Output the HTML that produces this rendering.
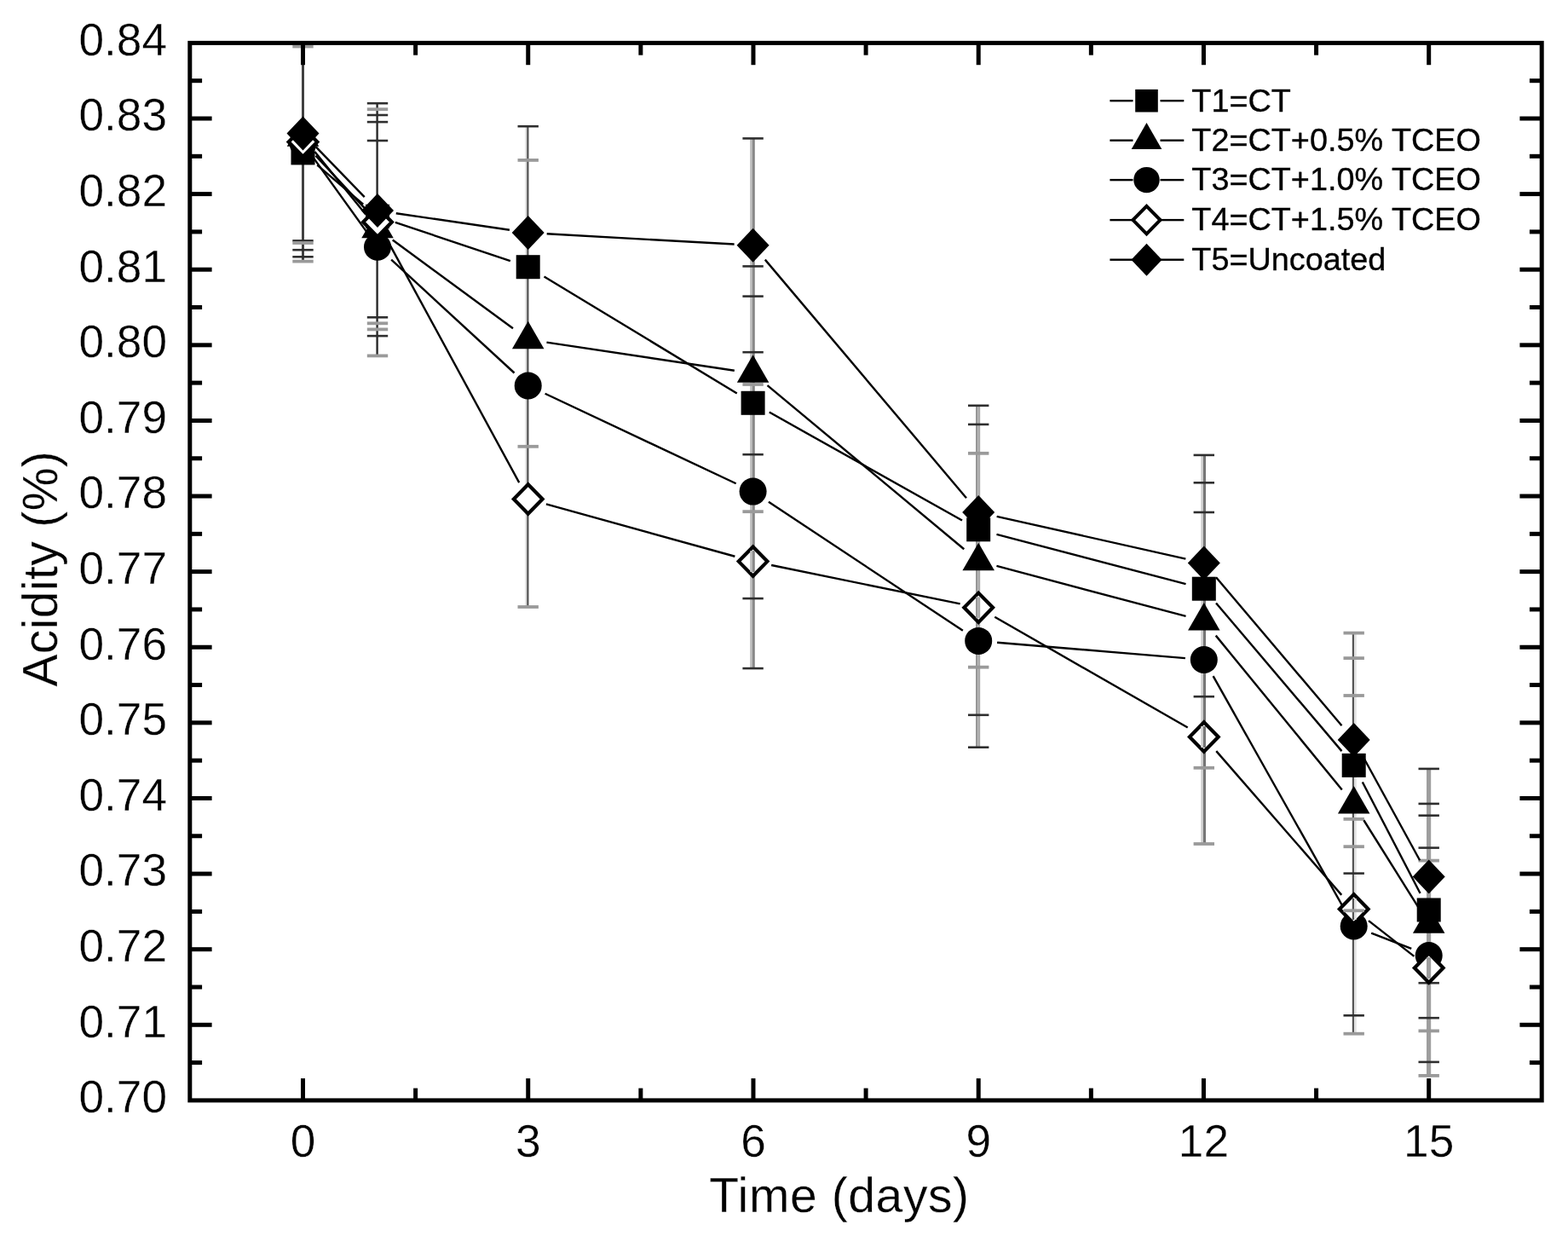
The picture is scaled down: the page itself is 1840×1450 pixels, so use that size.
<!DOCTYPE html>
<html><head><meta charset="utf-8"><title>Acidity chart</title>
<style>html,body{margin:0;padding:0;background:#fff;}body{width:1840px;height:1450px;overflow:hidden;}svg{display:block;}text{font-family:"Liberation Sans",Arial,sans-serif;fill:#000;}</style>
</head><body>
<svg width="1840" height="1450" viewBox="0 0 1840 1450">
<rect x="0" y="0" width="1840" height="1450" fill="#fff"/>
<g>
<rect x="354" y="50.4" width="3" height="256.2" fill="#404040"/>
<line x1="343.3" y1="54.5" x2="367.7" y2="54.5" stroke="#9a9a9a" stroke-width="3.8"/>
<line x1="343.3" y1="282.4" x2="367.7" y2="282.4" stroke="#2e2e2e" stroke-width="2.6"/>
<line x1="343.3" y1="285" x2="367.7" y2="285" stroke="#9a9a9a" stroke-width="3.8"/>
<line x1="343.3" y1="293.2" x2="367.7" y2="293.2" stroke="#2e2e2e" stroke-width="2.6"/>
<line x1="343.3" y1="301.3" x2="367.7" y2="301.3" stroke="#2e2e2e" stroke-width="2.6"/>
<line x1="343.3" y1="306.6" x2="367.7" y2="306.6" stroke="#9a9a9a" stroke-width="3.8"/>
<rect x="441.4" y="121.2" width="2.4" height="296.2" fill="#2a2a2a"/>
<line x1="430.8" y1="121.2" x2="455.2" y2="121.2" stroke="#2e2e2e" stroke-width="2.6"/>
<line x1="430.8" y1="128.2" x2="455.2" y2="128.2" stroke="#9a9a9a" stroke-width="3.8"/>
<line x1="430.8" y1="135" x2="455.2" y2="135" stroke="#2e2e2e" stroke-width="2.6"/>
<line x1="430.8" y1="143.1" x2="455.2" y2="143.1" stroke="#2e2e2e" stroke-width="2.6"/>
<line x1="430.8" y1="165" x2="455.2" y2="165" stroke="#2e2e2e" stroke-width="2.6"/>
<line x1="430.8" y1="372.3" x2="455.2" y2="372.3" stroke="#2e2e2e" stroke-width="2.6"/>
<line x1="430.8" y1="379.3" x2="455.2" y2="379.3" stroke="#9a9a9a" stroke-width="3.8"/>
<line x1="430.8" y1="386.4" x2="455.2" y2="386.4" stroke="#9a9a9a" stroke-width="3.8"/>
<line x1="430.8" y1="394.1" x2="455.2" y2="394.1" stroke="#2e2e2e" stroke-width="2.6"/>
<line x1="430.8" y1="417.4" x2="455.2" y2="417.4" stroke="#9a9a9a" stroke-width="3.8"/>
<rect x="616.2" y="148.2" width="2" height="563.8" fill="#e0e0e0"/><rect x="618.2" y="148.2" width="2.3" height="563.8" fill="#555555"/>
<line x1="607.5" y1="148.2" x2="631.9" y2="148.2" stroke="#2e2e2e" stroke-width="2.6"/>
<line x1="607.5" y1="187.9" x2="631.9" y2="187.9" stroke="#9a9a9a" stroke-width="3.8"/>
<line x1="607.5" y1="523.8" x2="631.9" y2="523.8" stroke="#9a9a9a" stroke-width="3.8"/>
<line x1="607.5" y1="712" x2="631.9" y2="712" stroke="#9a9a9a" stroke-width="3.8"/>
<rect x="880.2" y="162.4" width="2.7" height="621.7" fill="#bbbbbb"/><rect x="882.9" y="162.4" width="2.9" height="621.7" fill="#888888"/>
<line x1="871.4" y1="162.4" x2="895.8" y2="162.4" stroke="#2e2e2e" stroke-width="2.6"/>
<line x1="871.4" y1="312.4" x2="895.8" y2="312.4" stroke="#2e2e2e" stroke-width="2.6"/>
<line x1="871.4" y1="347.6" x2="895.8" y2="347.6" stroke="#2e2e2e" stroke-width="2.6"/>
<line x1="871.4" y1="413.2" x2="895.8" y2="413.2" stroke="#2e2e2e" stroke-width="2.6"/>
<line x1="871.4" y1="451" x2="895.8" y2="451" stroke="#9a9a9a" stroke-width="3.8"/>
<line x1="871.4" y1="533.2" x2="895.8" y2="533.2" stroke="#2e2e2e" stroke-width="2.6"/>
<line x1="871.4" y1="600.2" x2="895.8" y2="600.2" stroke="#9a9a9a" stroke-width="3.8"/>
<line x1="871.4" y1="702.1" x2="895.8" y2="702.1" stroke="#2e2e2e" stroke-width="2.6"/>
<line x1="871.4" y1="784.1" x2="895.8" y2="784.1" stroke="#2e2e2e" stroke-width="2.6"/>
<rect x="1145" y="475.8" width="2.5" height="400.9" fill="#969696"/><rect x="1147.5" y="475.8" width="2.7" height="400.9" fill="#aaaaaa"/>
<line x1="1136" y1="475.8" x2="1160.4" y2="475.8" stroke="#2e2e2e" stroke-width="2.6"/>
<line x1="1136" y1="497.9" x2="1160.4" y2="497.9" stroke="#2e2e2e" stroke-width="2.6"/>
<line x1="1136" y1="531.8" x2="1160.4" y2="531.8" stroke="#9a9a9a" stroke-width="3.8"/>
<line x1="1136" y1="782.7" x2="1160.4" y2="782.7" stroke="#9a9a9a" stroke-width="3.8"/>
<line x1="1136" y1="838.8" x2="1160.4" y2="838.8" stroke="#2e2e2e" stroke-width="2.6"/>
<line x1="1136" y1="876.7" x2="1160.4" y2="876.7" stroke="#2e2e2e" stroke-width="2.6"/>
<rect x="1409.2" y="533.9" width="2.7" height="456.1" fill="#d0d0d0"/><rect x="1411.9" y="533.9" width="3.1" height="456.1" fill="#767676"/>
<line x1="1400.6" y1="533.9" x2="1425" y2="533.9" stroke="#2e2e2e" stroke-width="2.6"/>
<line x1="1400.6" y1="566.3" x2="1425" y2="566.3" stroke="#2e2e2e" stroke-width="2.6"/>
<line x1="1400.6" y1="601" x2="1425" y2="601" stroke="#2e2e2e" stroke-width="2.6"/>
<line x1="1400.6" y1="817.2" x2="1425" y2="817.2" stroke="#2e2e2e" stroke-width="2.6"/>
<line x1="1400.6" y1="900.8" x2="1425" y2="900.8" stroke="#9a9a9a" stroke-width="3.8"/>
<line x1="1400.6" y1="990" x2="1425" y2="990" stroke="#9a9a9a" stroke-width="3.8"/>
<rect x="1586.8" y="742.6" width="2.3" height="470.1" fill="#555555"/><rect x="1589.1" y="742.6" width="2.6" height="470.1" fill="#e0e0e0"/>
<line x1="1576.5" y1="742.6" x2="1600.9" y2="742.6" stroke="#9a9a9a" stroke-width="3.8"/>
<line x1="1576.5" y1="772.1" x2="1600.9" y2="772.1" stroke="#9a9a9a" stroke-width="3.8"/>
<line x1="1576.5" y1="816" x2="1600.9" y2="816" stroke="#9a9a9a" stroke-width="3.8"/>
<line x1="1576.5" y1="960.9" x2="1600.9" y2="960.9" stroke="#9a9a9a" stroke-width="3.8"/>
<line x1="1576.5" y1="993.2" x2="1600.9" y2="993.2" stroke="#9a9a9a" stroke-width="3.8"/>
<line x1="1576.5" y1="1024.6" x2="1600.9" y2="1024.6" stroke="#2e2e2e" stroke-width="2.6"/>
<line x1="1576.5" y1="1068.3" x2="1600.9" y2="1068.3" stroke="#9a9a9a" stroke-width="3.8"/>
<line x1="1576.5" y1="1191.3" x2="1600.9" y2="1191.3" stroke="#2e2e2e" stroke-width="2.6"/>
<line x1="1576.5" y1="1212.7" x2="1600.9" y2="1212.7" stroke="#9a9a9a" stroke-width="3.8"/>
<rect x="1674" y="901.9" width="5.2" height="360" fill="#9e9e9e"/>
<line x1="1664.5" y1="901.9" x2="1688.9" y2="901.9" stroke="#2e2e2e" stroke-width="2.6"/>
<line x1="1664.5" y1="942.9" x2="1688.9" y2="942.9" stroke="#2e2e2e" stroke-width="2.6"/>
<line x1="1664.5" y1="956.7" x2="1688.9" y2="956.7" stroke="#2e2e2e" stroke-width="2.6"/>
<line x1="1664.5" y1="994.6" x2="1688.9" y2="994.6" stroke="#2e2e2e" stroke-width="2.6"/>
<line x1="1664.5" y1="1009.6" x2="1688.9" y2="1009.6" stroke="#9a9a9a" stroke-width="3.8"/>
<line x1="1664.5" y1="1153.2" x2="1688.9" y2="1153.2" stroke="#2e2e2e" stroke-width="2.6"/>
<line x1="1664.5" y1="1194.2" x2="1688.9" y2="1194.2" stroke="#2e2e2e" stroke-width="2.6"/>
<line x1="1664.5" y1="1209.4" x2="1688.9" y2="1209.4" stroke="#9a9a9a" stroke-width="3.8"/>
<line x1="1664.5" y1="1245.9" x2="1688.9" y2="1245.9" stroke="#2e2e2e" stroke-width="2.6"/>
<line x1="1664.5" y1="1261.9" x2="1688.9" y2="1261.9" stroke="#9a9a9a" stroke-width="3.8"/>
</g>
<g stroke="#000" fill="none" stroke-width="2.4" stroke-linejoin="round">
<line x1="372.26" y1="193.65" x2="426.24" y2="239.55"/>
<line x1="463.85" y1="260.81" x2="598.85" y2="306.19"/>
<line x1="638.53" y1="324.58" x2="864.77" y2="461.42"/>
<line x1="902.79" y1="483.57" x2="1129.01" y2="610.53"/>
<line x1="1169.48" y1="626.88" x2="1391.52" y2="685.12"/>
<line x1="1427.04" y1="707.47" x2="1574.46" y2="881.13"/>
<line x1="1598.83" y1="917.43" x2="1666.57" y2="1047.97"/>
<line x1="369.39" y1="178.06" x2="429.11" y2="251.44"/>
<line x1="460.73" y1="281.52" x2="601.97" y2="385.28"/>
<line x1="641.46" y1="401.57" x2="861.84" y2="434.73"/>
<line x1="900.51" y1="452.08" x2="1131.29" y2="644.22"/>
<line x1="1169.46" y1="663.95" x2="1391.54" y2="722.95"/>
<line x1="1426.73" y1="745.63" x2="1574.77" y2="926.57"/>
<line x1="1600.38" y1="962.24" x2="1665.02" y2="1065.36"/>
<line x1="368.34" y1="185.86" x2="430.16" y2="271.84"/>
<line x1="459.18" y1="304.6" x2="603.52" y2="437.5"/>
<line x1="639.61" y1="461.77" x2="863.69" y2="567.23"/>
<line x1="901.94" y1="588.75" x2="1129.86" y2="739.75"/>
<line x1="1170.12" y1="753.73" x2="1390.88" y2="772.17"/>
<line x1="1423.59" y1="793.17" x2="1577.91" y2="1067.33"/>
<line x1="1609.18" y1="1094.53" x2="1656.22" y2="1112.97"/>
<line x1="370.49" y1="182.6" x2="428.01" y2="244.4"/>
<line x1="453.51" y1="279.83" x2="609.19" y2="566.17"/>
<line x1="640.9" y1="591.37" x2="862.4" y2="652.73"/>
<line x1="905.15" y1="663.01" x2="1126.65" y2="708.39"/>
<line x1="1167.29" y1="723.74" x2="1393.71" y2="853.56"/>
<line x1="1427.25" y1="881.09" x2="1574.25" y2="1049.91"/>
<line x1="1606.01" y1="1080.07" x2="1659.39" y2="1121.93"/>
<line x1="370.79" y1="172.32" x2="427.71" y2="231.18"/>
<line x1="464.77" y1="250.2" x2="597.93" y2="269.8"/>
<line x1="641.67" y1="274.23" x2="861.63" y2="286.57"/>
<line x1="897.8" y1="304.61" x2="1134" y2="584.19"/>
<line x1="1169.66" y1="605.83" x2="1391.34" y2="655.67"/>
<line x1="1427.03" y1="677.28" x2="1574.47" y2="851.22"/>
<line x1="1599.28" y1="887.29" x2="1666.12" y2="1009.21"/>
</g>
<g fill="#000">
<rect x="341.5" y="165.4" width="28" height="28"/>
<rect x="429" y="239.8" width="28" height="28"/>
<rect x="605.7" y="299.2" width="28" height="28"/>
<rect x="869.6" y="458.8" width="28" height="28"/>
<rect x="1134.2" y="607.3" width="28" height="28"/>
<rect x="1398.8" y="676.7" width="28" height="28"/>
<rect x="1574.7" y="883.9" width="28" height="28"/>
<rect x="1662.7" y="1053.5" width="28" height="28"/>
<polygon points="355.5,139.33 374.25,171.83 336.75,171.83"/>
<polygon points="443,246.83 461.75,279.33 424.25,279.33"/>
<polygon points="619.7,376.63 638.45,409.13 600.95,409.13"/>
<polygon points="883.6,416.33 902.35,448.83 864.85,448.83"/>
<polygon points="1148.2,636.63 1166.95,669.13 1129.45,669.13"/>
<polygon points="1412.8,706.93 1431.55,739.43 1394.05,739.43"/>
<polygon points="1588.7,921.93 1607.45,954.43 1569.95,954.43"/>
<polygon points="1676.7,1062.33 1695.45,1094.83 1657.95,1094.83"/>
<circle cx="355.5" cy="168" r="16"/>
<circle cx="443" cy="289.7" r="16"/>
<circle cx="619.7" cy="452.4" r="16"/>
<circle cx="883.6" cy="576.6" r="16"/>
<circle cx="1148.2" cy="751.9" r="16"/>
<circle cx="1412.8" cy="774" r="16"/>
<circle cx="1588.7" cy="1086.5" r="16"/>
<circle cx="1676.7" cy="1121" r="16"/>
<polygon points="355.5,149.34 372.35,166.5 355.5,183.66 338.65,166.5" fill="#fff" stroke="#000" stroke-width="4.2" stroke-linejoin="miter"/>
<polygon points="443,243.34 459.85,260.5 443,277.67 426.15,260.5" fill="#fff" stroke="#000" stroke-width="4.2" stroke-linejoin="miter"/>
<polygon points="619.7,568.34 636.55,585.5 619.7,602.66 602.85,585.5" fill="#fff" stroke="#000" stroke-width="4.2" stroke-linejoin="miter"/>
<polygon points="883.6,641.44 900.45,658.6 883.6,675.76 866.75,658.6" fill="#fff" stroke="#000" stroke-width="4.2" stroke-linejoin="miter"/>
<polygon points="1148.2,695.63 1165.05,712.8 1148.2,729.96 1131.35,712.8" fill="#fff" stroke="#000" stroke-width="4.2" stroke-linejoin="miter"/>
<polygon points="1412.8,847.34 1429.65,864.5 1412.8,881.66 1395.95,864.5" fill="#fff" stroke="#000" stroke-width="4.2" stroke-linejoin="miter"/>
<polygon points="1588.7,1049.34 1605.55,1066.5 1588.7,1083.66 1571.85,1066.5" fill="#fff" stroke="#000" stroke-width="4.2" stroke-linejoin="miter"/>
<polygon points="1676.7,1118.34 1693.55,1135.5 1676.7,1152.66 1659.85,1135.5" fill="#fff" stroke="#000" stroke-width="4.2" stroke-linejoin="miter"/>
</g>
<g>
<rect x="880.2" y="646.1" width="2.7" height="25" fill="#bbbbbb"/><rect x="882.9" y="646.1" width="2.9" height="25" fill="#888888"/>
<rect x="1145" y="700.3" width="2.5" height="25" fill="#969696"/><rect x="1147.5" y="700.3" width="2.7" height="25" fill="#aaaaaa"/>
<rect x="1409.2" y="852" width="2.7" height="25" fill="#d0d0d0"/><rect x="1411.9" y="852" width="3.1" height="25" fill="#767676"/>
<rect x="1586.8" y="1054" width="2.3" height="25" fill="#555555"/><rect x="1589.1" y="1054" width="2.6" height="25" fill="#e0e0e0"/>
<line x1="1576.5" y1="1068.3" x2="1600.9" y2="1068.3" stroke="#9a9a9a" stroke-width="3.8"/>
<rect x="1674" y="1123" width="5.2" height="25" fill="#9e9e9e"/>
</g>
<g fill="#000">
<polygon points="355.5,136.5 374.5,156.5 355.5,176.5 336.5,156.5"/>
<polygon points="443,227 462,247 443,267 424,247"/>
<polygon points="619.7,253 638.7,273 619.7,293 600.7,273"/>
<polygon points="883.6,267.8 902.6,287.8 883.6,307.8 864.6,287.8"/>
<polygon points="1148.2,581 1167.2,601 1148.2,621 1129.2,601"/>
<polygon points="1412.8,640.5 1431.8,660.5 1412.8,680.5 1393.8,660.5"/>
<polygon points="1588.7,848 1607.7,868 1588.7,888 1569.7,868"/>
<polygon points="1676.7,1008.5 1695.7,1028.5 1676.7,1048.5 1657.7,1028.5"/>
</g>
<g stroke="#000" fill="none" stroke-width="5" stroke-linecap="butt">
<rect x="222.8" y="50.4" width="1586.4" height="1240.5" stroke-linejoin="miter"/>
<line x1="222.8" y1="1246.6" x2="237.1" y2="1246.6"/>
<line x1="1809.2" y1="1246.6" x2="1794.9" y2="1246.6"/>
<line x1="222.8" y1="1202.29" x2="248.6" y2="1202.29"/>
<line x1="1809.2" y1="1202.29" x2="1783.4" y2="1202.29"/>
<line x1="222.8" y1="1157.99" x2="237.1" y2="1157.99"/>
<line x1="1809.2" y1="1157.99" x2="1794.9" y2="1157.99"/>
<line x1="222.8" y1="1113.69" x2="248.6" y2="1113.69"/>
<line x1="1809.2" y1="1113.69" x2="1783.4" y2="1113.69"/>
<line x1="222.8" y1="1069.38" x2="237.1" y2="1069.38"/>
<line x1="1809.2" y1="1069.38" x2="1794.9" y2="1069.38"/>
<line x1="222.8" y1="1025.08" x2="248.6" y2="1025.08"/>
<line x1="1809.2" y1="1025.08" x2="1783.4" y2="1025.08"/>
<line x1="222.8" y1="980.77" x2="237.1" y2="980.77"/>
<line x1="1809.2" y1="980.77" x2="1794.9" y2="980.77"/>
<line x1="222.8" y1="936.47" x2="248.6" y2="936.47"/>
<line x1="1809.2" y1="936.47" x2="1783.4" y2="936.47"/>
<line x1="222.8" y1="892.17" x2="237.1" y2="892.17"/>
<line x1="1809.2" y1="892.17" x2="1794.9" y2="892.17"/>
<line x1="222.8" y1="847.86" x2="248.6" y2="847.86"/>
<line x1="1809.2" y1="847.86" x2="1783.4" y2="847.86"/>
<line x1="222.8" y1="803.56" x2="237.1" y2="803.56"/>
<line x1="1809.2" y1="803.56" x2="1794.9" y2="803.56"/>
<line x1="222.8" y1="759.26" x2="248.6" y2="759.26"/>
<line x1="1809.2" y1="759.26" x2="1783.4" y2="759.26"/>
<line x1="222.8" y1="714.95" x2="237.1" y2="714.95"/>
<line x1="1809.2" y1="714.95" x2="1794.9" y2="714.95"/>
<line x1="222.8" y1="670.65" x2="248.6" y2="670.65"/>
<line x1="1809.2" y1="670.65" x2="1783.4" y2="670.65"/>
<line x1="222.8" y1="626.35" x2="237.1" y2="626.35"/>
<line x1="1809.2" y1="626.35" x2="1794.9" y2="626.35"/>
<line x1="222.8" y1="582.04" x2="248.6" y2="582.04"/>
<line x1="1809.2" y1="582.04" x2="1783.4" y2="582.04"/>
<line x1="222.8" y1="537.74" x2="237.1" y2="537.74"/>
<line x1="1809.2" y1="537.74" x2="1794.9" y2="537.74"/>
<line x1="222.8" y1="493.44" x2="248.6" y2="493.44"/>
<line x1="1809.2" y1="493.44" x2="1783.4" y2="493.44"/>
<line x1="222.8" y1="449.13" x2="237.1" y2="449.13"/>
<line x1="1809.2" y1="449.13" x2="1794.9" y2="449.13"/>
<line x1="222.8" y1="404.83" x2="248.6" y2="404.83"/>
<line x1="1809.2" y1="404.83" x2="1783.4" y2="404.83"/>
<line x1="222.8" y1="360.53" x2="237.1" y2="360.53"/>
<line x1="1809.2" y1="360.53" x2="1794.9" y2="360.53"/>
<line x1="222.8" y1="316.22" x2="248.6" y2="316.22"/>
<line x1="1809.2" y1="316.22" x2="1783.4" y2="316.22"/>
<line x1="222.8" y1="271.92" x2="237.1" y2="271.92"/>
<line x1="1809.2" y1="271.92" x2="1794.9" y2="271.92"/>
<line x1="222.8" y1="227.61" x2="248.6" y2="227.61"/>
<line x1="1809.2" y1="227.61" x2="1783.4" y2="227.61"/>
<line x1="222.8" y1="183.31" x2="237.1" y2="183.31"/>
<line x1="1809.2" y1="183.31" x2="1794.9" y2="183.31"/>
<line x1="222.8" y1="139.01" x2="248.6" y2="139.01"/>
<line x1="1809.2" y1="139.01" x2="1783.4" y2="139.01"/>
<line x1="222.8" y1="94.7" x2="237.1" y2="94.7"/>
<line x1="1809.2" y1="94.7" x2="1794.9" y2="94.7"/>
<line x1="355.5" y1="1290.9" x2="355.5" y2="1265.1"/>
<line x1="355.5" y1="50.4" x2="355.5" y2="76.2"/>
<line x1="487.62" y1="1290.9" x2="487.62" y2="1276.6"/>
<line x1="487.62" y1="50.4" x2="487.62" y2="64.7"/>
<line x1="619.74" y1="1290.9" x2="619.74" y2="1265.1"/>
<line x1="619.74" y1="50.4" x2="619.74" y2="76.2"/>
<line x1="751.86" y1="1290.9" x2="751.86" y2="1276.6"/>
<line x1="751.86" y1="50.4" x2="751.86" y2="64.7"/>
<line x1="883.98" y1="1290.9" x2="883.98" y2="1265.1"/>
<line x1="883.98" y1="50.4" x2="883.98" y2="76.2"/>
<line x1="1016.1" y1="1290.9" x2="1016.1" y2="1276.6"/>
<line x1="1016.1" y1="50.4" x2="1016.1" y2="64.7"/>
<line x1="1148.22" y1="1290.9" x2="1148.22" y2="1265.1"/>
<line x1="1148.22" y1="50.4" x2="1148.22" y2="76.2"/>
<line x1="1280.34" y1="1290.9" x2="1280.34" y2="1276.6"/>
<line x1="1280.34" y1="50.4" x2="1280.34" y2="64.7"/>
<line x1="1412.46" y1="1290.9" x2="1412.46" y2="1265.1"/>
<line x1="1412.46" y1="50.4" x2="1412.46" y2="76.2"/>
<line x1="1544.58" y1="1290.9" x2="1544.58" y2="1276.6"/>
<line x1="1544.58" y1="50.4" x2="1544.58" y2="64.7"/>
<line x1="1676.7" y1="1290.9" x2="1676.7" y2="1265.1"/>
<line x1="1676.7" y1="50.4" x2="1676.7" y2="76.2"/>
</g>
<g font-size="53.2" text-anchor="end" stroke="#fff" stroke-width="0.35">
<text x="196.0" y="1305.2">0.70</text>
<text x="196.0" y="1216.59">0.71</text>
<text x="196.0" y="1127.99">0.72</text>
<text x="196.0" y="1039.38">0.73</text>
<text x="196.0" y="950.77">0.74</text>
<text x="196.0" y="862.16">0.75</text>
<text x="196.0" y="773.56">0.76</text>
<text x="196.0" y="684.95">0.77</text>
<text x="196.0" y="596.34">0.78</text>
<text x="196.0" y="507.74">0.79</text>
<text x="196.0" y="419.13">0.80</text>
<text x="196.0" y="330.52">0.81</text>
<text x="196.0" y="241.91">0.82</text>
<text x="196.0" y="153.31">0.83</text>
<text x="196.0" y="64.7">0.84</text>
</g>
<g font-size="53.2" text-anchor="middle" stroke="#fff" stroke-width="0.35">
<text x="355.5" y="1357.4">0</text>
<text x="619.74" y="1357.4">3</text>
<text x="883.98" y="1357.4">6</text>
<text x="1148.22" y="1357.4">9</text>
<text x="1412.46" y="1357.4">12</text>
<text x="1676.7" y="1357.4">15</text>
</g>
<text x="985" y="1421.9" font-size="57" letter-spacing="0.6" text-anchor="middle" stroke="#fff" stroke-width="0.3">Time (days)</text>
<text transform="translate(66.8,667.2) rotate(-90)" font-size="57" letter-spacing="0.4" text-anchor="middle" stroke="#fff" stroke-width="0.3">Acidity (%)</text>
<g>
<line x1="1302.4" y1="118.2" x2="1329.5" y2="118.2" stroke="#000" stroke-width="2.4"/>
<line x1="1361.5" y1="118.2" x2="1389.3" y2="118.2" stroke="#000" stroke-width="2.4"/>
<g fill="#000" transform="translate(1345.5,118.2) scale(0.95) translate(-1345.5,-118.2)"><rect x="1331.5" y="104.2" width="28" height="28"/></g>
<text x="1398.3" y="130.5" font-size="37.8" stroke="#000" stroke-width="0.35">T1=CT</text>
<line x1="1302.4" y1="164.7" x2="1329.5" y2="164.7" stroke="#000" stroke-width="2.4"/>
<line x1="1361.5" y1="164.7" x2="1389.3" y2="164.7" stroke="#000" stroke-width="2.4"/>
<g fill="#000" transform="translate(1345.5,164.7) scale(0.95) translate(-1345.5,-164.7)"><polygon points="1345.5,143.03 1364.25,175.53 1326.75,175.53"/></g>
<text x="1398.3" y="177" font-size="37.8" stroke="#000" stroke-width="0.35">T2=CT+0.5% TCEO</text>
<line x1="1302.4" y1="211.1" x2="1329.5" y2="211.1" stroke="#000" stroke-width="2.4"/>
<line x1="1361.5" y1="211.1" x2="1389.3" y2="211.1" stroke="#000" stroke-width="2.4"/>
<g fill="#000" transform="translate(1345.5,211.1) scale(0.95) translate(-1345.5,-211.1)"><circle cx="1345.5" cy="211.1" r="16"/></g>
<text x="1398.3" y="223.4" font-size="37.8" stroke="#000" stroke-width="0.35">T3=CT+1.0% TCEO</text>
<line x1="1302.4" y1="258.1" x2="1329.5" y2="258.1" stroke="#000" stroke-width="2.4"/>
<line x1="1361.5" y1="258.1" x2="1389.3" y2="258.1" stroke="#000" stroke-width="2.4"/>
<g transform="translate(1345.5,258.1) scale(0.95) translate(-1345.5,-258.1)"><polygon points="1345.5,240.93 1362.35,258.1 1345.5,275.26 1328.65,258.1" fill="#fff" stroke="#000" stroke-width="4.2" stroke-linejoin="miter"/></g>
<text x="1398.3" y="270.4" font-size="37.8" stroke="#000" stroke-width="0.35">T4=CT+1.5% TCEO</text>
<line x1="1302.4" y1="304.7" x2="1329.5" y2="304.7" stroke="#000" stroke-width="2.4"/>
<line x1="1361.5" y1="304.7" x2="1389.3" y2="304.7" stroke="#000" stroke-width="2.4"/>
<g fill="#000" transform="translate(1345.5,304.7) scale(0.95) translate(-1345.5,-304.7)"><polygon points="1345.5,284.7 1364.5,304.7 1345.5,324.7 1326.5,304.7"/></g>
<text x="1398.3" y="317" font-size="37.8" stroke="#000" stroke-width="0.35">T5=Uncoated</text>
</g>
</svg>
</body></html>
